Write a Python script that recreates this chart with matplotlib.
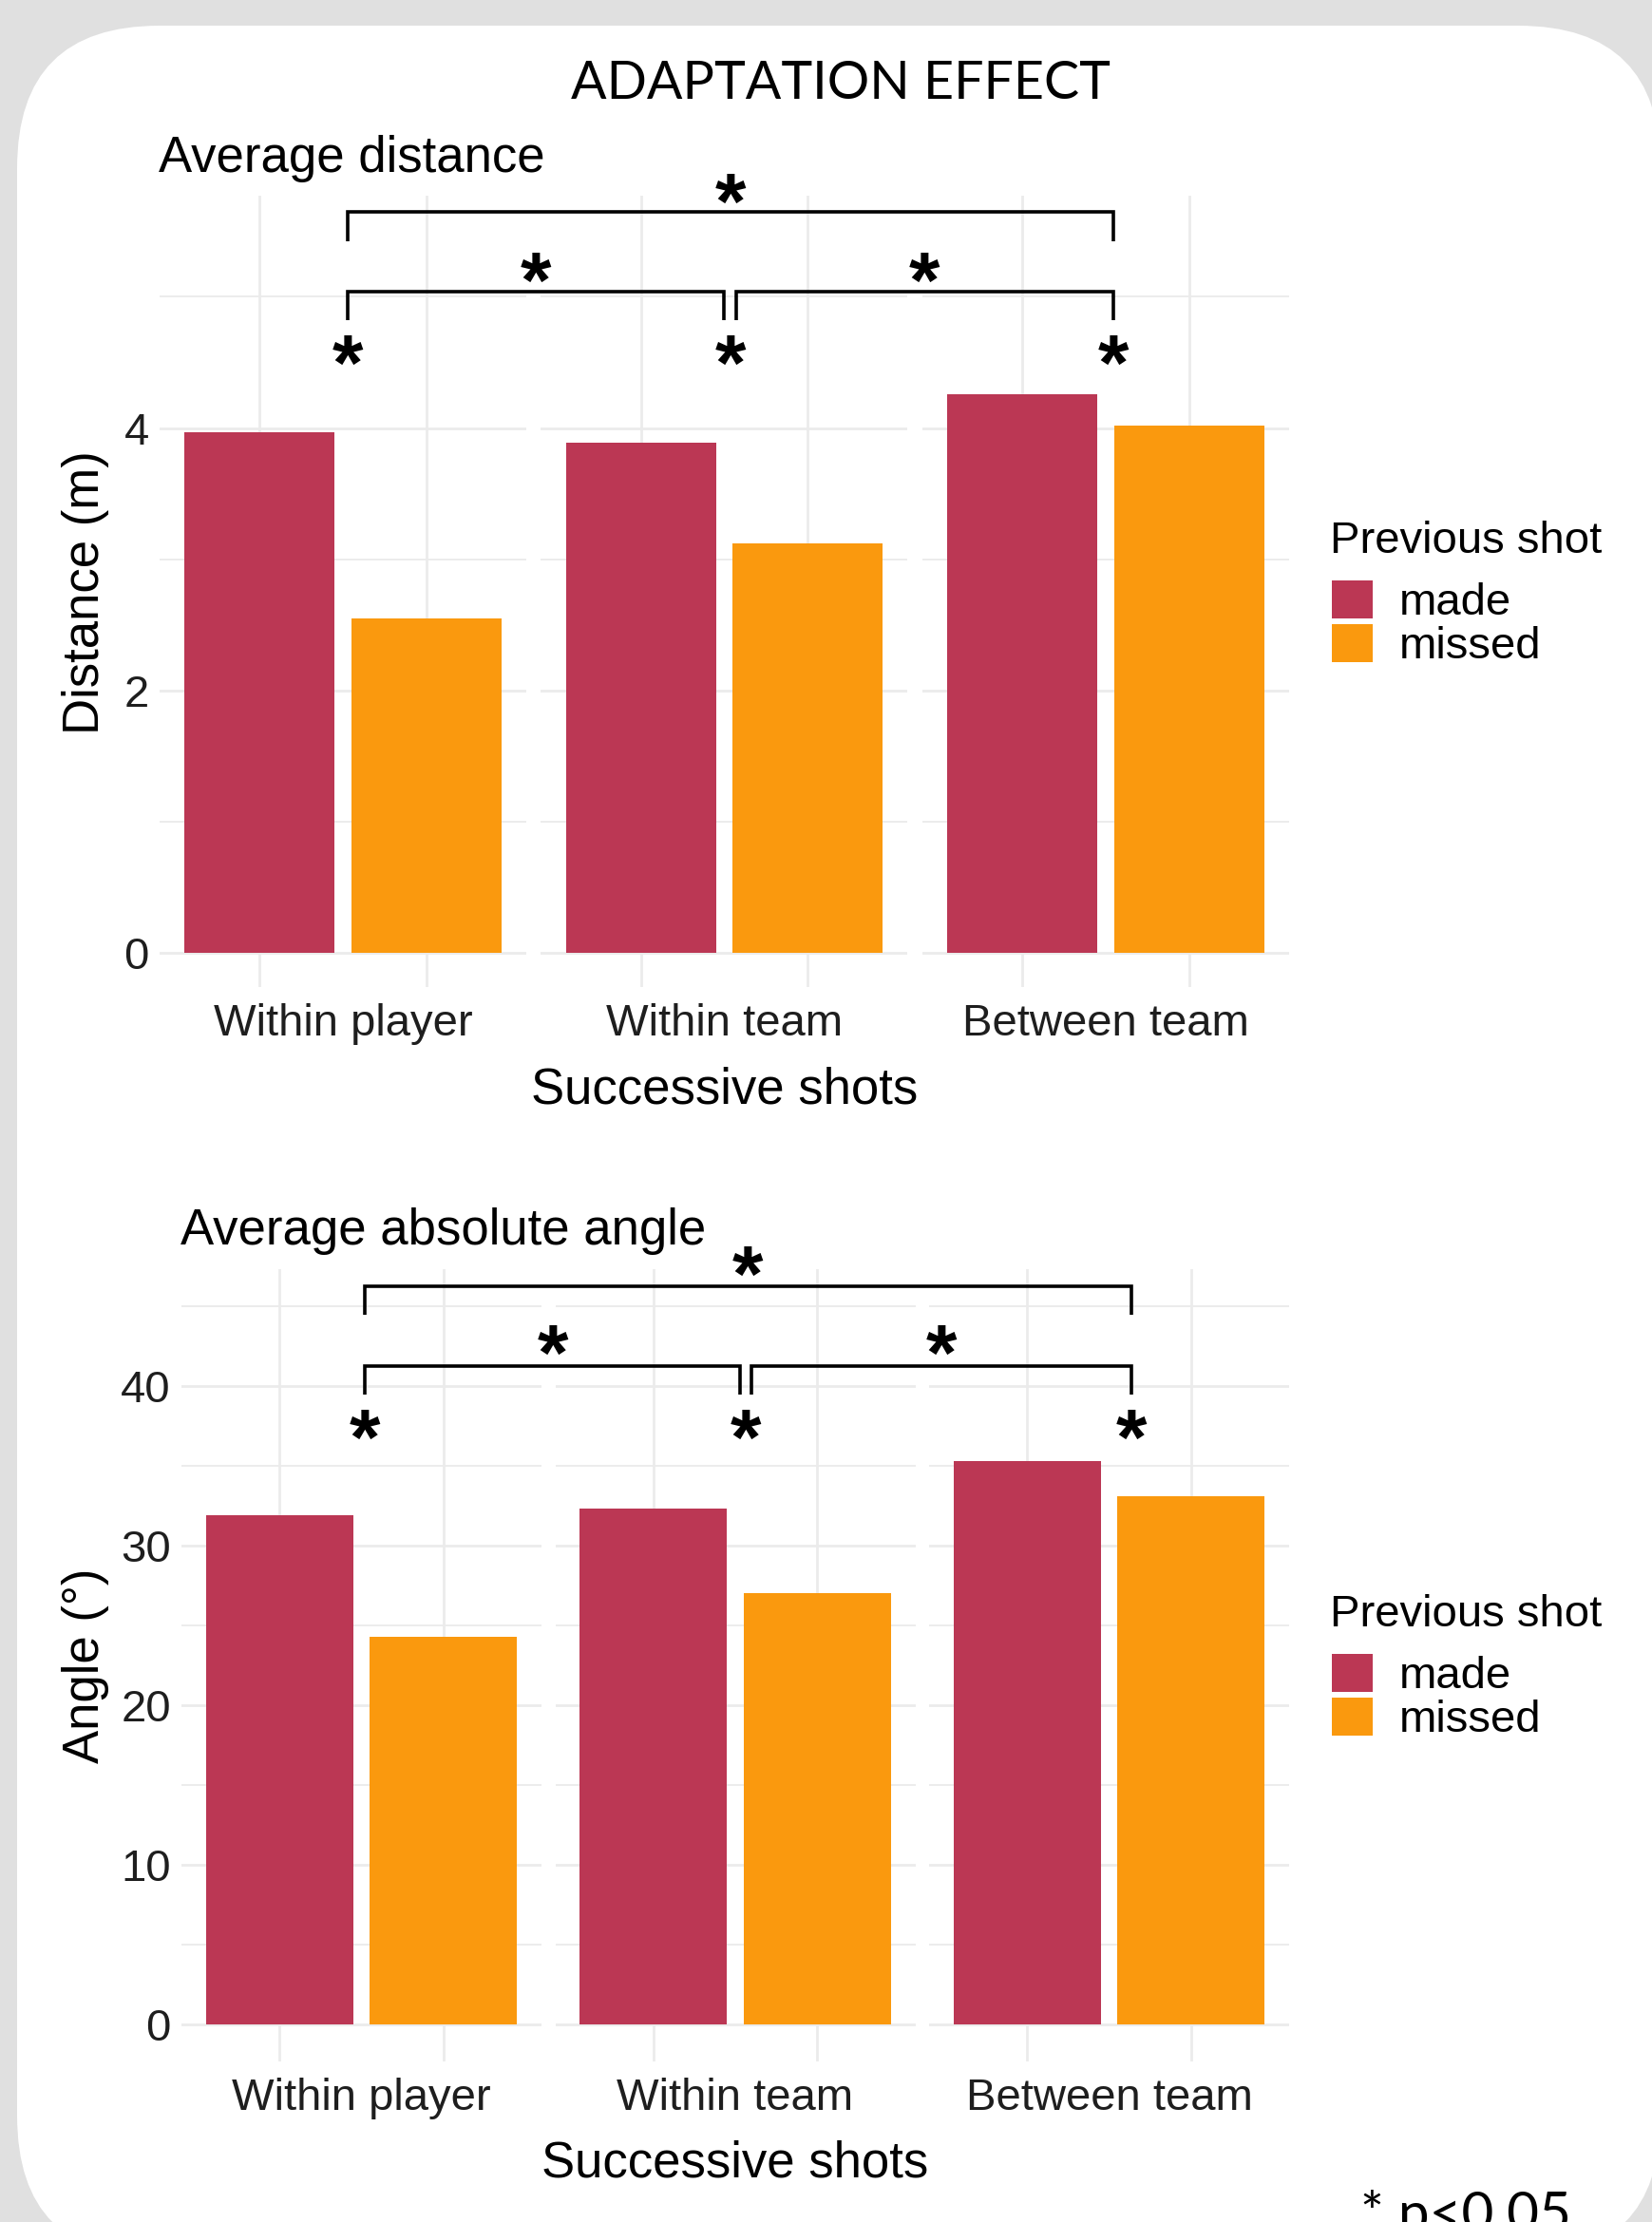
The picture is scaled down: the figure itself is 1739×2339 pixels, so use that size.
import matplotlib.pyplot as plt
import numpy as np
from matplotlib.patches import FancyBboxPatch, Patch

categories = ["Within player", "Within team", "Between team"]
shot_levels = ["made", "missed"]
distance_made = [3.97, 3.89, 4.26]
distance_missed = [2.55, 3.12, 4.02]
angle_made = [31.9, 32.3, 35.3]
angle_missed = [24.3, 27.0, 33.1]

distance_ticks = [0, 2, 4]
angle_ticks = [0, 10, 20, 30, 40]

# significance marks: star over each made/missed pair, brackets between groups
distance_pair_star = 4.59
angle_pair_star = 37.55
# (group a, group b, bracket height, leg end, star height)
distance_brackets = [(0, 2, 5.645, 5.42, 5.82), (0, 1, 5.04, 4.82, 5.22), (1, 2, 5.04, 4.82, 5.22)]
angle_brackets = [(0, 2, 46.2, 44.45, 47.75), (0, 1, 41.24, 39.45, 42.8), (1, 2, 41.24, 39.45, 42.8)]
# the annotation layer sits a little right of each group centre
distance_nudge = [0.03, 0.035, 0.045]
angle_nudge = [0.02, 0.065, 0.135]

MADE = "#BB3754"
MISSED = "#FA990E"
GRID = "#EBEBEB"
TXT = "#1E1E1E"
W, H = 1740, 2339
STAR = 60

plt.rcParams["font.family"] = ["Liberation Sans", "DejaVu Sans"]


def fx(x):
    return x / W


def fy(y):
    return 1 - y / H


def star(ax, x, y):
    # y is the centre of the asterisk glyph
    ax.annotate("*", xy=(x, y), xytext=(0, -0.50 * STAR), textcoords="offset points",
                ha="center", va="baseline", fontsize=STAR, fontweight="bold",
                annotation_clip=False)


def draw_panel(fig, left, top, bottom, facet_w, gap, made, missed, ticks, minor,
               ylim, pair_star, brackets, nudge, subtitle, ylabel, ylabel_y, label_y, xtitle_y):
    for i, cat in enumerate(categories):
        x0 = left + i * (facet_w + gap)
        ax = fig.add_axes([fx(x0), fy(bottom), facet_w / W, (bottom - top) / H])
        ax.set_facecolor("none")
        ax.bar([0, 1], [made[i], missed[i]], width=0.9, color=[MADE, MISSED], zorder=2)
        ax.set_xlim(-0.6, 1.6)
        ax.set_ylim(*ylim)
        ax.set_xticks([0, 1])
        ax.set_yticks(ticks)
        ax.set_yticks(minor, minor=True)
        ax.grid(True, which="major", color=GRID, lw=2.0, zorder=0)
        ax.grid(True, which="minor", axis="y", color=GRID, lw=1.3, zorder=0)
        ax.tick_params(which="both", length=0, labelbottom=False, labelsize=34,
                       labelcolor=TXT, pad=8, labelleft=(i == 0))
        for s in ax.spines.values():
            s.set_visible(False)
        ax.set_xlabel(cat, fontsize=34, color=TXT, labelpad=12.5)

    # overlay spanning all facets for the significance marks
    unit = facet_w / 2.2
    g = gap / unit
    ov = fig.add_axes([fx(left), fy(bottom), (3 * facet_w + 2 * gap) / W, (bottom - top) / H])
    ov.axis("off")
    ov.set_xlim(0, 3 * 2.2 + 2 * g)
    ov.set_ylim(*ylim)

    def gx(group):
        return group * (2.2 + g) + 0.6 + 0.5 + nudge[group]

    for i in range(len(categories)):
        star(ov, gx(i), pair_star)

    for a, b, yb, yleg, ys in brackets:
        xa = gx(a) + (0.035 if a == 1 else 0)
        xb = gx(b) - (0.035 if b == 1 else 0)
        ov.plot([xa, xa, xb, xb], [yleg, yb, yb, yleg], color="black", lw=2.6,
                solid_joinstyle="miter", solid_capstyle="butt", clip_on=False)
        star(ov, (xa + xb) / 2, ys)

    fig.text(fx(left - 1), fy(label_y), subtitle, fontsize=38, color="black", va="baseline")
    fig.text(fx(90), fy(ylabel_y), ylabel, fontsize=38, rotation=90, ha="center", va="center")
    fig.text(fx(left + (3 * facet_w + 2 * gap) / 2), fy(xtitle_y), "Successive shots",
             fontsize=38, ha="center", va="center")


def draw_legend(fig, title_base, box_top):
    fig.text(fx(1400), fy(title_base), "Previous shot", fontsize=34, va="baseline")
    fig.legend(handles=[Patch(fc=MADE, label=shot_levels[0]), Patch(fc=MISSED, label=shot_levels[1])],
               loc="upper left", bbox_to_anchor=(fx(1402), fy(box_top)),
               frameon=False, fontsize=34, handlelength=0.92, handleheight=0.92,
               handletextpad=0.58, labelspacing=0.0, borderpad=0, borderaxespad=0)


fig = plt.figure(figsize=(W / 100, H / 100), dpi=100, facecolor="#E0E0E0")

bg = fig.add_axes([0, 0, 1, 1], zorder=-10)
bg.set_xlim(0, W)
bg.set_ylim(H, 0)
bg.axis("off")
bg.add_patch(FancyBboxPatch((18, 27), 1730, 2350, boxstyle="round,pad=0,rounding_size=150",
                            fc="white", ec="none"))

fig.text(fx(885), fy(89), "ADAPTATION EFFECT", ha="center", va="center", fontsize=40,
         family=["Lato", "DejaVu Sans"])

draw_panel(fig, 168, 206, 1039, 386, 15.5, distance_made, distance_missed,
           distance_ticks, [1, 3, 5], (-0.26, 5.77), distance_pair_star, distance_brackets,
           distance_nudge, "Average distance", "Distance (m)", 624, 181, 1147)
draw_panel(fig, 191, 1336, 2170, 379, 14.5, angle_made, angle_missed,
           angle_ticks, [5, 15, 25, 35, 45], (-2.3, 47.3), angle_pair_star, angle_brackets,
           angle_nudge, "Average absolute angle", "Angle (°)", 1753, 1310, 2277)

draw_legend(fig, 582, 611)
draw_legend(fig, 1712, 1741)

fig.text(fx(1432), fy(2349), "* p<0.05", ha="left", va="baseline", fontsize=42,
         family=["Lato", "DejaVu Sans"])

fig.savefig("out.png", dpi=100, facecolor=fig.get_facecolor())
